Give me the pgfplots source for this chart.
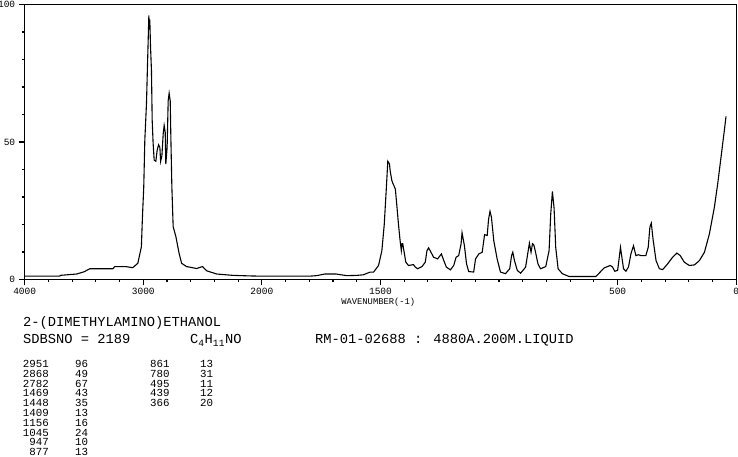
\documentclass[border=0pt]{standalone}
\usepackage{fontspec}
\setmainfont{Liberation Mono}
\usepackage{pgfplots}
\pgfplotsset{compat=1.18}
\begin{document}
\begin{tikzpicture}
\useasboundingbox (0,0) rectangle (738pt,457pt);
\begin{axis}[
  at={(24.7pt,177.5pt)}, anchor=south west,
  scale only axis, width=711.5pt, height=275pt,
  x coord trafo/.code={\pgfmathparse{#1>2000 ? (4000-#1)/2 : 3000-#1}},
  xmin=4000, xmax=0, ymin=0, ymax=100,
  xtick={4000,3000,2000,1500,500,0},
  xticklabels={4000,3000,2000,1500,500,0},
  minor xtick={3800,3600,3400,3200,2800,2600,2400,2200,1900,1800,1700,1600,1400,1300,1200,1100,1000,900,800,700,600,400,300,200,100},
  ytick={0,50,100}, yticklabels={0,50,100},
  minor ytick={10,20,30,40,60,70,80,90},
  xtick pos=bottom, ytick pos=left,
  tick align=outside, major tick length=6pt, minor tick length=3pt,
  axis line style={line width=1.1pt},
  every tick/.style={black, line width=1.1pt},
  tick label style={font=\fontsize{9.5}{10}\selectfont},
  xticklabel style={yshift=1pt},
  xlabel={WAVENUMBER(-1)},
  xlabel style={at={(axis description cs:0.497,0)}, anchor=center, yshift=-22.5pt, font=\fontsize{8.8}{9}\selectfont},
]
\addplot[black, line width=1.1pt, sharp plot] coordinates {
(4000,1.2) (3705,1.2) (3700,1.5) (3561,2) (3500,2.8) (3451,3.9) (3257,3.9) (3240,4.7) (3150,4.7) (3089,4.3)
(3046,5.9) (3016,11.9) (3007,22.8) (2996,33.7) (2987,50.7) (2973,64) (2965,77) (2953,96) (2949,91) (2945,94.5)
(2939,84.7) (2931,76) (2925,58) (2917,49.5) (2908,43.4) (2894,43) (2883,47) (2871,49) (2860,48) (2854,43)
(2843,45) (2832,53) (2824,56) (2815,53.5) (2810,42) (2799,48) (2790,65) (2782,67.7) (2773,65) (2767,50.7)
(2759,33.7) (2748,19.2) (2725,15.6) (2698,9.5) (2677,5.9) (2635,4.7) (2551,4) (2500,4.7) (2467,3.2) (2382,2)
(2244,1.5) (2101,1.3) (1996,1.2) (1800,1.2) (1769,1.4) (1734,2) (1688,2) (1642,1.4) (1600,1.5) (1573,1.7)
(1543,2.7) (1529,2.7) (1508,5.1) (1494,10.5) (1484,20) (1476,32) (1469,43) (1462,42) (1459,39.5) (1452,36)
(1448,35) (1446,34.7) (1437,32.8) (1430,26) (1424,20) (1417,14) (1412,10.5) (1409,13) (1406,13) (1400,9.9)
(1393,6.3) (1382,5.1) (1361,5.4) (1353,4.5) (1343,3.9) (1325,4.7) (1311,6.3) (1304,10.5) (1297,11.5) (1287,9.9)
(1276,8.1) (1259,7.5) (1243,9.3) (1233,6.9) (1222,4.5) (1205,3.5) (1191,5.1) (1181,8.1) (1170,8.7) (1160,13)
(1156,17) (1146,12.3) (1137,5.7) (1128,2.9) (1107,2.7) (1099,7.5) (1085,9.3) (1071,9.9) (1061,16.3) (1050,16)
(1044,22) (1038,24.8) (1032,22.6) (1022,14) (1008,7.5) (994,2.7) (973,2.1) (955,3.9) (947,8.7) (942,9.9)
(935,6.9) (923,3.3) (909,2.3) (888,4.5) (877,10.5) (872,13.2) (865,9.9) (859,13) (853,12.5) (846,9.9)
(836,5.7) (825,3.9) (803,4.7) (789,10.5) (782,23.8) (775,32) (768,26) (761,11.7) (751,3.9) (733,2.1)
(705,1.1) (592,1.1) (578,2.3) (557,4.2) (531,5.1) (522,4.6) (512,3) (500,3.3) (493,8.1) (488,11.7)
(482,8.1) (475,3.9) (465,3) (454,4.6) (444,9.3) (433,12.3) (423,8.7) (413,9.0) (402,8.7) (381,8.7)
(371,11.7) (364,19) (358,20.5) (350,14.2) (338,6.9) (324,3.9) (310,3.6) (289,5.7) (268,8.1) (250,9.6)
(236,8.7) (219,6.3) (198,5.1) (176,5.3) (155,6.9) (134,9.9) (113,16.6) (92,26.3) (78,34.8) (64,44.5)
(50,54.2) (43,59.3)
};
\end{axis}
\begin{scope}[font=\fontsize{13.75}{15}\selectfont]
\node[anchor=base west, inner sep=0] at (23pt,130pt) {2-(DIMETHYLAMINO)ETHANOL};
\node[anchor=base west, inner sep=0] at (23pt,113pt) {SDBSNO = 2189};
\node[anchor=base west, inner sep=0] at (190pt,113pt) {C\textsubscript{4}H\textsubscript{11}NO};
\node[anchor=base west, inner sep=0] at (315pt,113pt) {RM-01-02688 : 4880A.200M.LIQUID};
\end{scope}
\begin{scope}[font=\fontsize{10.8}{12}\selectfont]
\foreach \a/\b [count=\i from 0] in {2951/96,2868/49,2782/67,1469/43,1448/35,1409/13,1156/16,1045/24,947/10,877/13} {
  \node[anchor=base east, inner sep=0] at ({49pt},{89.5pt-9.8pt*\i}) {\a};
  \node[anchor=base west, inner sep=0] at ({75pt},{89.5pt-9.8pt*\i}) {\b};
}
\foreach \a/\b [count=\i from 0] in {861/13,780/31,495/11,439/12,366/20} {
  \node[anchor=base west, inner sep=0] at ({150pt},{89.5pt-9.8pt*\i}) {\a};
  \node[anchor=base west, inner sep=0] at ({200pt},{89.5pt-9.8pt*\i}) {\b};
}
\end{scope}
\end{tikzpicture}
\end{document}
